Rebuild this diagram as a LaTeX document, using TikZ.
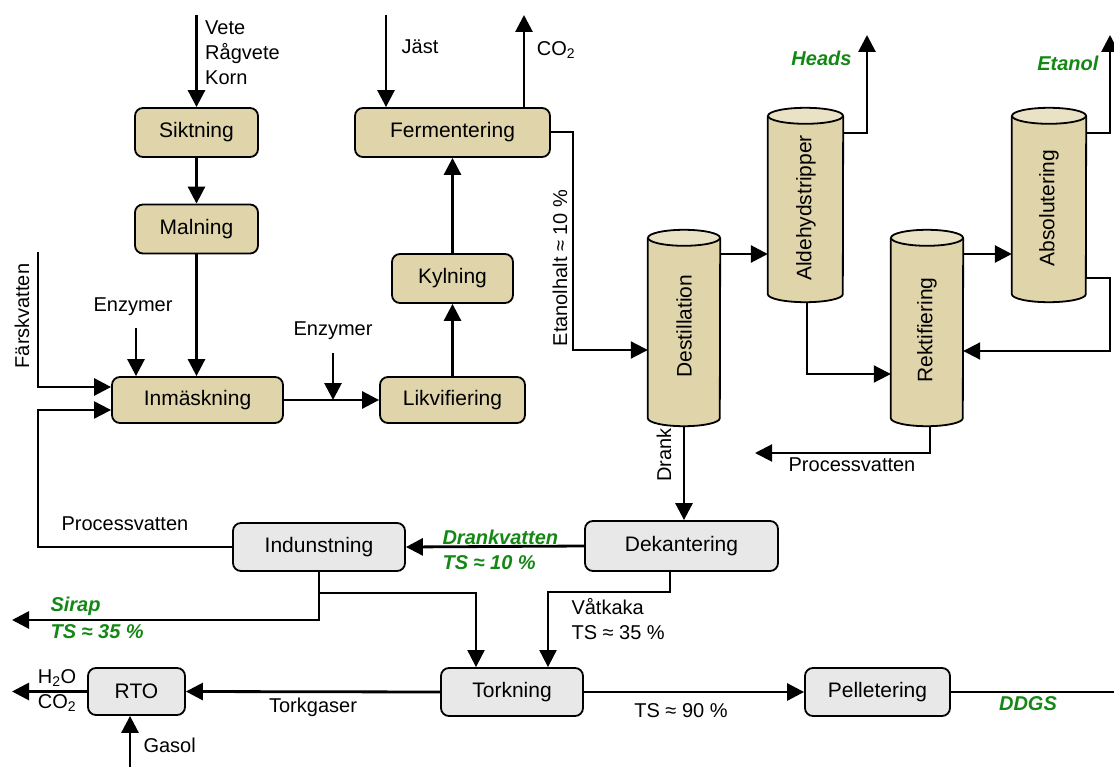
\documentclass[tikz,border=0pt]{standalone}
\usepackage{fontspec}
\setmainfont{Liberation Sans}
\usetikzlibrary{arrows.meta,calc}
\definecolor{tanc}{RGB}{223,212,170}
\definecolor{tanl}{RGB}{234,226,196}
\definecolor{greyc}{RGB}{232,232,232}
\definecolor{grn}{RGB}{20,135,20}
\newcommand\drawcyl[2]{%
 \fill[tanc] (#1.north west) -- (#1.south west) arc[start angle=180,end angle=0,x radius=#2,y radius=8] -- (#1.north east) -- cycle;
 \draw[line width=1.8] (#1.north west) -- (#1.south west) arc[start angle=180,end angle=0,x radius=#2,y radius=8] -- (#1.north east);
 \filldraw[fill=tanl,line width=1.8] (#1.north) ellipse[x radius=#2,y radius=8];
}
\begin{document}
\begin{tikzpicture}[x=1pt,y=-1pt,
  every node/.style={font=\fontsize{20}{25}\selectfont},
  tbox/.style={draw, line width=1.8, rounded corners=8, fill=tanc, inner sep=0, font=\fontsize{21}{25}\selectfont},
  gbox/.style={tbox, fill=greyc},
  cylb/.style={inner sep=0},
  ctext/.style={rotate=90, font=\fontsize{21}{25}\selectfont},
  arr/.style={line width=2.8, -{Triangle[length=17pt,width=17pt]}},
  tl/.style={line width=2},
  tarr/.style={tl, -{Triangle[length=17pt,width=17pt]}},
  glab/.style={text=grn, font=\fontsize{20}{25}\selectfont\bfseries\itshape},
  lab/.style={inner sep=0}]
\useasboundingbox (0,0) rectangle (1114,767);

% boxes
\node[tbox, minimum width=123, minimum height=49] (sikt) at (196.5,132.5) {Siktning};
\node[tbox, minimum width=123, minimum height=49] (maln) at (196.5,229) {Malning};
\node[tbox, minimum width=171, minimum height=46] (inm) at (197.5,400) {Inmäskning};
\node[tbox, minimum width=145, minimum height=46] (likv) at (452.5,400) {Likvifiering};
\node[tbox, minimum width=121, minimum height=49] (kyl) at (452.5,278.5) {Kylning};
\node[tbox, minimum width=195, minimum height=49] (ferm) at (452.5,132.5) {Fermentering};
\node[gbox, minimum width=193, minimum height=50] (dek) at (681.5,546) {Dekantering};
\node[gbox, minimum width=172, minimum height=48] (ind) at (319,547) {Indunstning};
\node[gbox, minimum width=142, minimum height=48] (tork) at (512,692) {Torkning};
\node[gbox, minimum width=97, minimum height=47] (rto) at (136.5,691.5) {RTO};
\node[gbox, minimum width=145, minimum height=48] (pell) at (877.5,692) {Pelletering};

% cylinders
\node[cylb, minimum width=72, minimum height=180] (dest) at (684,328) {};
\node[cylb, minimum width=75, minimum height=178] (ald) at (805.5,205) {};
\node[cylb, minimum width=72, minimum height=180] (rekt) at (927,328) {};
\node[cylb, minimum width=74, minimum height=178] (abs) at (1049,205) {};
\drawcyl{dest}{36}
\drawcyl{ald}{37.5}
\drawcyl{rekt}{36}
\drawcyl{abs}{37}
\node[ctext] (tdest) at (684,326) {Destillation};
\node[ctext] (tald) at (806,208) {Aldehydstripper};
\node[ctext] (trekt) at (927,330) {Rektifiering};
\node[ctext] (tabs) at (1049,208) {Absolutering};

% top-left chain
\coordinate (vin) at (196.5,15);
\draw[arr] (vin) -- (sikt.north);
\node[lab, anchor=north west, align=left] (lvete) at (205,21) {Vete\\Rågvete\\Korn};
\draw[arr] (sikt.south) -- (maln.north);
\draw[arr] (maln.south) -- (maln.south |- inm.north);
\node (lenz1) at (133,307) {Enzymer};
\coordinate (enz1) at (136,328);
\draw[arr] (enz1) -- (enz1 |- inm.north);
\node[rotate=90] (lfv) at (22,316) {Färskvatten};
\coordinate (fv) at (38,252);
\coordinate (fvin) at ($(inm.west)+(0,-13)$);
\draw[arr] (fv) |- (fvin);
\draw[arr] (inm.east) -- (likv.west);
\node (lenz2) at (333,331) {Enzymer};
\coordinate (enz2) at (333,353);
\draw[arr] (enz2) -- (enz2 |- inm.east);
\draw[arr] (likv.north) -- (kyl.south);
\draw[arr] (kyl.north) -- (ferm.south);
\coordinate (jast) at (386,15);
\draw[arr] (jast) -- (jast |- ferm.north);
\node (ljast) at (420,47) {Jäst};
\coordinate (co2) at (524,15);
\draw[arr] (co2 |- ferm.north) -- (co2);
\node (lco2) at (556,50) {CO\textsubscript{2}};

% to distillation
\coordinate (et) at (573,350);
\draw[tarr] (ferm.east) -| (et) -- (et -| dest.west);
\node[rotate=90] (let) at (560,268) {Etanolhalt ≈ 10 \%};

% columns
\coordinate (y254) at (0,254);
\coordinate (y133) at (0,133);
\coordinate (y278) at (0,278);
\draw[arr] (dest.east |- y254) -- (ald.west |- y254);
\coordinate (hd) at (867,35);
\draw[arr] (ald.east |- y133) -| (hd);
\node[glab, anchor=east] (lheads) at (855,58) {Heads};
\coordinate (et2) at (1110,35);
\draw[arr] (abs.east |- y133) -| (et2);
\node[glab, anchor=east] (letanol) at (1102,63) {Etanol};
\draw[arr] (rekt.east |- y254) -- (abs.west |- y254);
\coordinate (rc) at (1110,351);
\draw[tarr] (abs.east |- y278) -| (rc) -- (rc -| rekt.east);
\coordinate (alb) at ($(ald.south)+(1.5,8)$);
\coordinate (al2) at (807,374);
\draw[tarr] (alb) -- (al2) -- (al2 -| rekt.west);
\coordinate (rkb) at ($(rekt.south)+(3,8)$);
\coordinate (pv) at (755,453);
\draw[tarr] (rkb) |- (pv);
\node (lpv1) at (852,465) {Processvatten};
\draw[arr] ($(dest.south)+(0,8)$) -- (dest.south |- dek.north);
\node[rotate=90] (ldrank) at (664,455) {Drank};

% lower part
\draw[arr] (dek.west) -- (ind.east);
\node[glab, anchor=west] (ldv) at (439,537) {Drankvatten};
\node[glab, anchor=west] (lts10) at (439,563) {TS ≈ 10 \%};
\coordinate (pvl) at (38,547);
\coordinate (pvin) at ($(inm.west)+(0,10)$);
\draw[tarr] (ind.west) -- (pvl) |- (pvin);
\node[anchor=west] (lpv2) at (58,524) {Processvatten};
\coordinate (sir) at (12,620);
\draw[arr] (ind.south) |- (sir);
\coordinate (y593) at (0,593);
\draw[tarr] (ind.south |- y593) -| ($(tork.north)+(-36,0)$);
\node[glab, anchor=west] (lsirap) at (47,606) {Sirap};
\node[glab, anchor=west] (lts35a) at (47,632) {TS ≈ 35 \%};
\coordinate (vk1) at (670,592);
\coordinate (vk2) at ($(tork.north)+(36,0)$);
\draw[tarr] (vk1 |- dek.south) -- (vk1) -| (vk2);
\node[anchor=west] (lvk) at (568,607) {Våtkaka};
\node[anchor=west] (lts35b) at (568,633) {TS ≈ 35 \%};
\draw[arr] (tork.west) -- (rto.east);
\node (ltg) at (313,707) {Torkgaser};
\coordinate (rtoout) at (12,691.5);
\draw[arr] (rto.west) -- (rtoout);
\node (lh2o) at (57,678) {H\textsubscript{2}O};
\node (lco2b) at (57,703) {CO\textsubscript{2}};
\coordinate (gas) at (130,767);
\draw[arr] (gas) -- (gas |- rto.south);
\node[anchor=west] (lgas) at (140,745) {Gasol};
\draw[arr] (tork.east) -- (pell.west);
\node (lts90) at (681,711) {TS ≈ 90 \%};
\coordinate (dd) at (1114,692);
\draw[line width=2.8] (pell.east) -- (dd);
\node[glab] (lddgs) at (1028,704) {DDGS};
\end{tikzpicture}
\end{document}
